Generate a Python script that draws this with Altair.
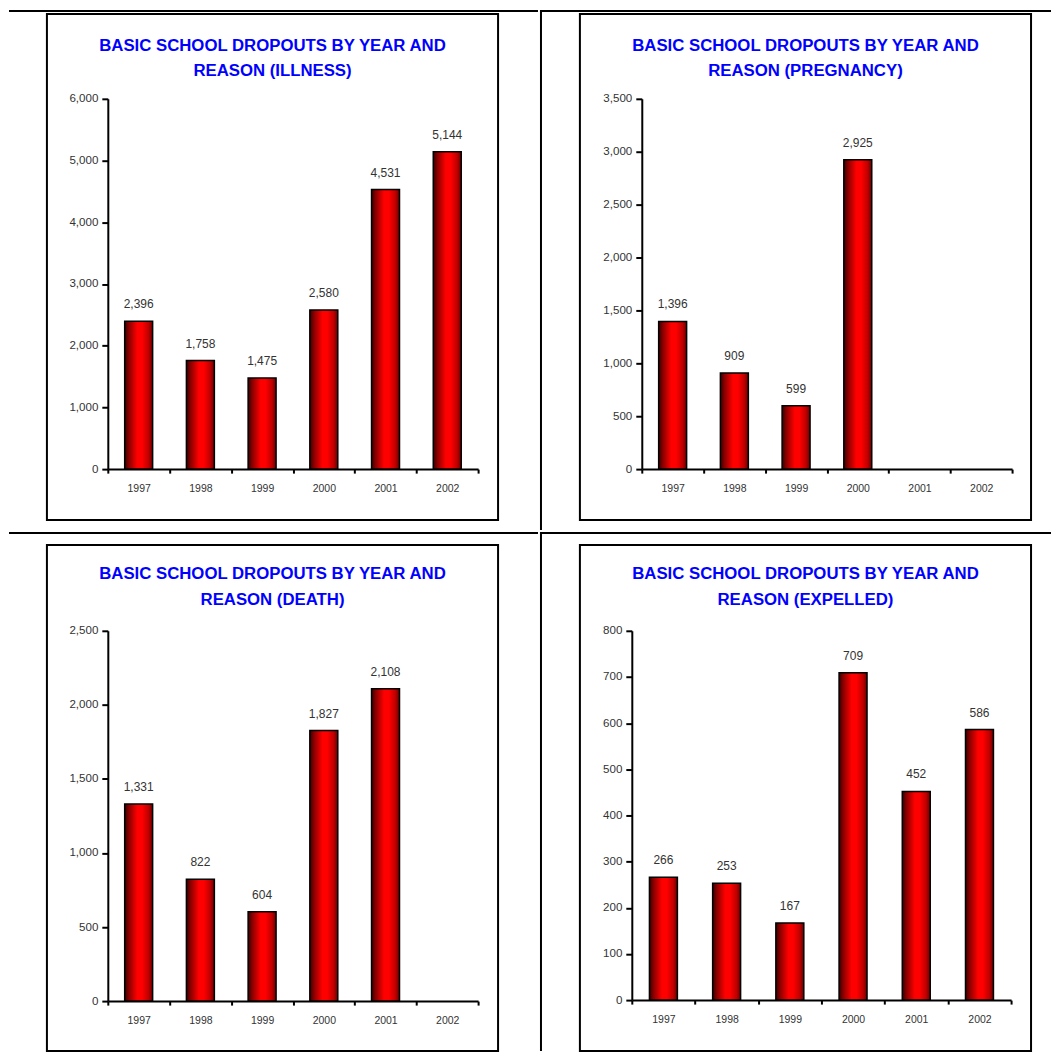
import altair as alt
import pandas as pd

# ---------------- data ----------------
years = ["1997", "1998", "1999", "2000", "2001", "2002"]
illness = [2396, 1758, 1475, 2580, 4531, 5144]
pregnancy = [1396, 909, 599, 2925, None, None]
death = [1331, 822, 604, 1827, 2108, None]
expelled = [266, 253, 167, 709, 452, 586]

title_line1 = "BASIC SCHOOL DROPOUTS BY YEAR AND"
reasons = ["REASON (ILLNESS)", "REASON (PREGNANCY)", "REASON (DEATH)", "REASON (EXPELLED)"]
y_max = [6000, 3500, 2500, 800]
y_step = [1000, 500, 500, 100]

FONT = "Liberation Sans, Arial, sans-serif"

grad = alt.LinearGradient(
    gradient="linear", x1=0, x2=1, y1=0, y2=0,
    stops=[
        alt.GradientStop(color="#3a0000", offset=0),
        alt.GradientStop(color="#8a0000", offset=0.15),
        alt.GradientStop(color="#ff0000", offset=0.45),
        alt.GradientStop(color="#ff0000", offset=0.62),
        alt.GradientStop(color="#c00000", offset=0.85),
        alt.GradientStop(color="#6a0000", offset=1),
    ],
)

one = pd.DataFrame({"k": [0]})


def panel(values, reason, ymax, ystep, width, height, box, hlines, vlines, tdx, toff):
    df = pd.DataFrame({"year": years, "count": values}).dropna()
    base = alt.Chart(df)
    xenc = alt.X(
        "year:N",
        scale=alt.Scale(domain=years, paddingInner=0, paddingOuter=0),
        axis=alt.Axis(title=None, labelAngle=0, tickBand="extent"),
    )
    yenc = alt.Y(
        "count:Q",
        scale=alt.Scale(domain=[0, ymax], nice=False, zero=True),
        axis=alt.Axis(title=None, values=list(range(0, ymax + 1, ystep)), format=",d"),
    )
    bars = base.mark_bar(size=28, color=grad, stroke="black", strokeWidth=1.5).encode(x=xenc, y=yenc)
    labels = base.mark_text(
        dy=-13, baseline="alphabetic", align="center", fontSize=12, font=FONT, color="#333333"
    ).encode(x=xenc, y=yenc, text=alt.Text("count:Q", format=","))
    boxl = alt.Chart(one).mark_rect(fill="transparent", stroke="black", strokeWidth=2).encode(
        x=alt.value(box[0]), x2=alt.value(box[1]), y=alt.value(box[2]), y2=alt.value(box[3])
    )
    layers = [boxl]
    for (xa, xb, yy) in hlines:
        layers.append(
            alt.Chart(one).mark_rule(stroke="black", strokeWidth=2, strokeCap="square").encode(
                x=alt.value(xa), x2=alt.value(xb), y=alt.value(yy)
            )
        )
    for (xx, ya, yb) in vlines:
        layers.append(
            alt.Chart(one).mark_rule(stroke="black", strokeWidth=2, strokeCap="square").encode(
                x=alt.value(xx), y=alt.value(ya), y2=alt.value(yb)
            )
        )
    layers += [bars, labels]
    return alt.layer(*layers).properties(
        width=width,
        height=height,
        title=alt.TitleParams(
            text=[title_line1, reason],
            anchor="middle",
            frame="group",
            dx=tdx,
            offset=toff,
            baseline="alphabetic",
            font=FONT,
            fontSize=16.8,
            fontWeight="bold",
            color="#0000ff",
            lineHeight=25.5,
        ),
    )


tl = panel(illness, reasons[0], y_max[0], y_step[0], 371, 371,
           box=(-61, 391, -85, 422), hlines=[(-98, 430, -88)], vlines=[], tdx=-20.5, toff=-83.5)
tr = panel(pregnancy, reasons[1], y_max[1], y_step[1], 371, 371,
           box=(-62, 390, -85, 422), hlines=[(-101, 409, -88)], vlines=[(-101, -88, 431)],
           tdx=-21.5, toff=-83.5)
bl = panel(death, reasons[2], y_max[2], y_step[2], 371, 371,
           box=(-61, 391, -86, 421), hlines=[(-98, 430, -98)], vlines=[], tdx=-20.5, toff=-90)
br = panel(expelled, reasons[3], y_max[3], y_step[3], 380, 370,
           box=(-52, 400, -86, 421), hlines=[(-91, 419, -98)], vlines=[(-91, -98, 420)],
           tdx=-16, toff=-90)

chart = (
    alt.concat(tl, tr, bl, br, columns=2, spacing=0, align="none", bounds="full")
    .properties(padding=0)
    .configure_view(stroke=None)
    .configure_axis(
        domainColor="black", domainWidth=2, tickColor="black", tickWidth=2,
        labelColor="#333333", grid=False, labelFont=FONT,
    )
    .configure_axisY(tickSize=6, labelFontSize=11.6, labelPadding=4)
    .configure_axisX(tickSize=4, labelFontSize=10.5, labelPadding=10)
)

chart.save("out.html", embed_options={"renderer": "svg", "actions": False})
